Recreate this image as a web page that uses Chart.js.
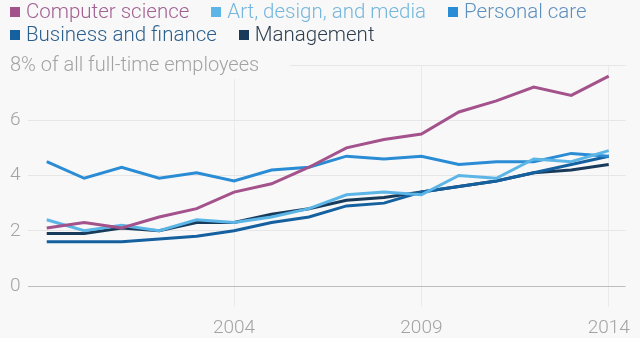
<!DOCTYPE html>
<html>
<head>
<meta charset="utf-8">
<script src="https://cdn.jsdelivr.net/npm/chart.js@4"></script>
<style>
  html, body { margin:0; padding:0; background:#f8f8f8; }
  #wrap { position:relative; width:640px; height:338px; }
  #legend { position:absolute; left:10px; top:0; width:620px; display:flex; flex-wrap:wrap;
    column-gap:22px; font-family:Roboto, sans-serif; font-weight:300; font-size:20.5px; line-height:23px; }
  #legend span.item { display:flex; align-items:center; white-space:nowrap; }
  #legend i { display:inline-block; width:10px; height:10px; margin-right:6px; }
</style>
</head>
<body>
<div id="wrap">
  <canvas id="chart" width="640" height="338"></canvas>
  <div id="legend"></div>
</div>
<script>
const years = [1999, 2000, 2001, 2002, 2003, 2004, 2005, 2006, 2007, 2008, 2009, 2010, 2011, 2012, 2013, 2014];
const compSci     = [2.1, 2.3, 2.1, 2.5, 2.8, 3.4, 3.7, 4.3, 5.0, 5.3, 5.5, 6.3, 6.7, 7.2, 6.9, 7.6];
const artDesign   = [2.4, 2.0, 2.2, 2.0, 2.4, 2.3, 2.5, 2.8, 3.3, 3.4, 3.3, 4.0, 3.9, 4.6, 4.5, 4.9];
const personal    = [4.5, 3.9, 4.3, 3.9, 4.1, 3.8, 4.2, 4.3, 4.7, 4.6, 4.7, 4.4, 4.5, 4.5, 4.8, 4.7];
const business    = [1.6, 1.6, 1.6, 1.7, 1.8, 2.0, 2.3, 2.5, 2.9, 3.0, 3.4, 3.6, 3.8, 4.1, 4.4, 4.7];
const management  = [1.9, 1.9, 2.1, 2.0, 2.3, 2.3, 2.6, 2.8, 3.1, 3.2, 3.4, 3.6, 3.8, 4.1, 4.2, 4.4];
const seriesNames = ["Computer science", "Art, design, and media", "Personal care", "Business and finance", "Management"];
const xTicks = [2004, 2009, 2014];
const yTicks = [0, 2, 4, 6, 8];
const yTopLabel = "8% of all full-time employees";

const colors = ["#a3528b", "#5bb5e6", "#2a8cd4", "#15609f", "#183b5b"];
const textColors = ["#a25f92", "#74b6dc", "#5d8fbf", "#2c5e8c", "#2f3f50"];
const bg = "#f8f8f8";
const grey = "#a3a3a3";

const allSeries = [compSci, artDesign, personal, business, management];
const datasets = allSeries.map((vals, i) => ({
  label: seriesNames[i],
  data: years.map((y, j) => ({ x: y, y: vals[j] })),
  borderColor: colors[i],
  backgroundColor: colors[i],
  borderWidth: 3,
  pointRadius: 0,
  tension: 0
}));

// html legend
const legend = document.getElementById("legend");
seriesNames.forEach((name, i) => {
  const s = document.createElement("span");
  s.className = "item";
  s.style.color = textColors[i];
  s.innerHTML = '<i style="background:' + colors[i] + '"></i>' + name;
  legend.appendChild(s);
});

const tickFont = { family: "Roboto", weight: "300", size: 19 };

// top y label sits on a box that hides the grid behind it
const topLabel = {
  id: "topLabel",
  beforeDatasetsDraw(chart) {
    const y = chart.scales.y.getPixelForValue(8);
    const ctx = chart.ctx;
    ctx.save();
    ctx.fillStyle = bg;
    ctx.fillRect(0, y - 13, 290, 27);
    ctx.font = "300 20px Roboto";
    ctx.fillStyle = grey;
    ctx.textBaseline = "middle";
    ctx.textAlign = "left";
    ctx.fillText(yTopLabel, 10, y + 1);
    ctx.restore();
  }
};

new Chart(document.getElementById("chart"), {
  type: "line",
  data: { datasets },
  options: {
    responsive: false,
    animation: false,
    layout: { padding: { top: 65, left: 10, right: 7, bottom: 0 } },
    plugins: { legend: { display: false }, tooltip: { enabled: false } },
    scales: {
      x: {
        type: "linear",
        min: 1998.5,
        max: 2014.45,
        afterBuildTicks: s => { s.ticks = xTicks.map(v => ({ value: v })); },
        afterFit: s => { s.height = 52; },
        grid: { color: "#eaeaea", lineWidth: 1, tickLength: 21 },
        border: { display: false },
        ticks: { color: grey, font: tickFont, padding: 10, maxRotation: 0, callback: v => String(v) }
      },
      y: {
        min: 0,
        max: 8,
        afterBuildTicks: s => { s.ticks = yTicks.map(v => ({ value: v })); },
        afterFit: s => { s.width = 18; },
        grid: {
          drawTicks: false,
          color: c => c.tick && c.tick.value === 0 ? "#bdbdbd" : "#e6e6e6",
          lineWidth: 1
        },
        border: { display: false },
        ticks: {
          color: grey,
          font: tickFont,
          padding: 0,
          crossAlign: "far",
          callback: v => v === 8 ? "" : String(v)
        }
      }
    }
  },
  plugins: [topLabel]
});
</script>
</body>
</html>
